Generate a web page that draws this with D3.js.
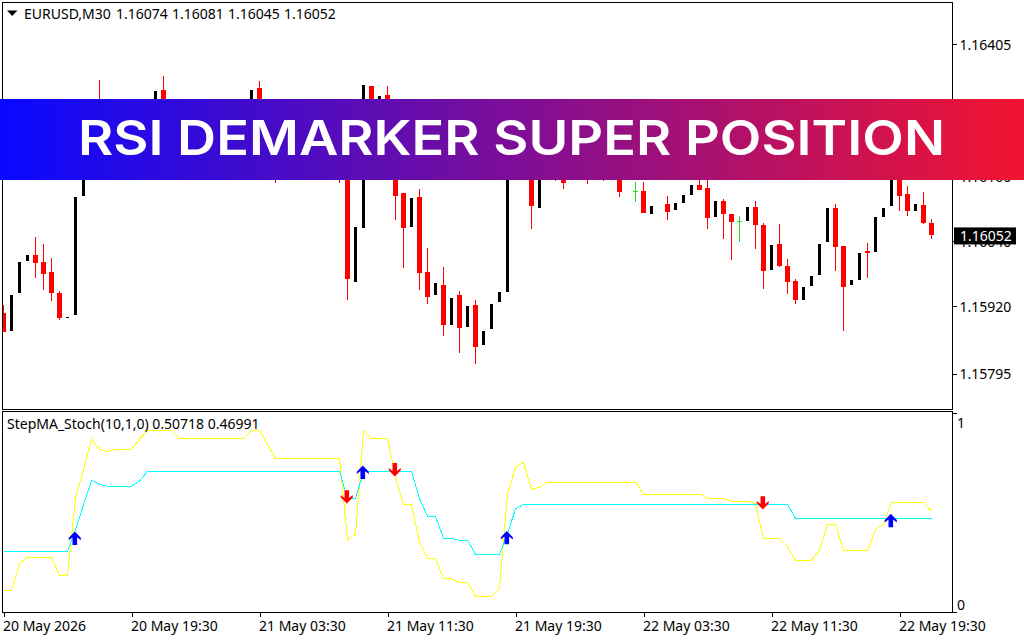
<!DOCTYPE html>
<html>
<head>
<meta charset="utf-8">
<script src="https://d3js.org/d3.v7.min.js"></script>
<style>
html,body{margin:0;padding:0;background:#fff;overflow:hidden}
svg{display:block}
text{font-family:"Noto Sans",Tahoma,sans-serif;font-size:14px;fill:#000}
</style>
</head>
<body>
<script>
const opens=[1.15908,1.15874,1.15945,1.16004,1.16015,1.16002,1.15983,1.15945,1.15899,1.15904,
1.16124,1.16228,1.16287,1.16246,1.16268,1.16240,1.16262,1.16245,1.16275,1.16300,
1.16320,1.16283,1.16262,1.16275,1.16255,1.16270,1.16282,1.16265,1.16280,1.16268,
1.16285,1.16300,1.16324,1.16274,1.16250,1.16225,1.16240,1.16220,1.16235,1.16250,
1.16230,1.16245,1.16225,1.16240,1.15965,1.16065,1.16328,1.16209,1.16311,1.16228,
1.16130,1.16067,1.16122,1.15983,1.15941,1.15959,1.15885,1.15941,1.15882,1.15922,
1.15848,1.15878,1.15928,1.15946,1.16285,1.16270,1.16280,1.16102,1.16240,1.16220,
1.16200,1.16170,1.16200,1.16190,1.16165,1.16190,1.16165,1.16195,1.16170,1.16133,
1.16133,1.16091,null,1.16109,1.16098,1.16111,1.16126,1.16144,1.16139,1.16085,
1.16115,1.16091,1.16078,1.16078,1.16104,1.16070,1.15987,1.16035,1.15995,1.15967,
1.15932,1.15958,1.15978,1.16039,1.16102,1.16032,1.15959,1.15969,1.16022,1.16020,
1.16085,1.16106,1.16240,1.16128,1.16096,1.16107,1.16074];
const closes=[1.15872,1.15941,1.16002,1.16015,1.16000,1.15980,1.15945,1.15898,1.15900,1.16122,
1.16228,1.16255,1.16246,1.16268,1.16240,1.16262,1.16245,1.16275,1.16300,1.16318,
1.16283,1.16262,1.16275,1.16255,1.16270,1.16282,1.16265,1.16280,1.16268,1.16285,
1.16300,1.16320,1.16274,1.16250,1.16225,1.16240,1.16220,1.16235,1.16250,1.16230,
1.16245,1.16225,1.16190,1.15970,1.16067,1.16329,1.16172,1.16309,1.16228,1.16124,
1.16065,1.16120,1.15982,1.15937,1.15963,1.15885,1.15935,1.15880,1.15921,1.15845,
1.15874,1.15924,1.15946,1.16283,1.16270,1.16280,1.16106,1.16240,1.16200,1.16190,
1.16148,1.16200,1.16175,1.16165,1.16190,1.16165,1.16195,1.16131,1.16195,1.16133,
1.16093,1.16106,null,1.16094,1.16111,1.16126,1.16144,1.16135,1.16083,1.16115,
1.16091,1.16076,1.16078,1.16104,1.16070,1.15985,1.16033,1.15995,1.15965,1.15932,
1.15956,1.15976,1.16035,1.16102,1.16030,1.15956,1.15969,1.16019,1.16019,1.16085,
1.16102,1.16230,1.16124,1.16096,1.16109,1.16074,1.16052];
const highs=[1.15922,1.15941,1.16002,1.16015,1.16048,1.16035,1.16009,1.15948,1.15900,1.16122,
1.16228,1.16255,1.16339,1.16268,1.16285,1.16262,1.16275,1.16275,1.16300,1.16318,
1.16346,1.16290,1.16275,1.16285,1.16270,1.16282,1.16292,1.16280,1.16288,1.16285,
1.16300,1.16320,1.16337,1.16280,1.16262,1.16240,1.16250,1.16235,1.16250,1.16260,
1.16245,1.16255,1.16240,1.16255,1.16067,1.16329,1.16328,1.16309,1.16328,1.16240,
1.16130,1.16120,1.16137,1.16028,1.15963,1.15993,1.15935,1.15948,1.15921,1.15932,
1.15874,1.15924,1.15946,1.16283,1.16295,1.16280,1.16295,1.16240,1.16250,1.16230,
1.16215,1.16200,1.16210,1.16200,1.16190,1.16200,1.16195,1.16205,1.16195,1.16150,
1.16150,1.16106,null,1.16124,1.16111,1.16126,1.16144,1.16172,1.16172,1.16115,
1.16118,1.16091,1.16087,1.16104,1.16115,1.16074,1.16033,1.16072,1.16008,1.15970,
1.15956,1.15976,1.16035,1.16102,1.16109,1.16032,1.15969,1.16019,1.16037,1.16085,
1.16102,1.16230,1.16250,1.16143,1.16109,1.16131,1.16081];
const lows=[1.15872,1.15874,1.15945,1.16004,1.15972,1.15950,1.15930,1.15895,1.15899,1.15904,
1.16124,1.16228,1.16237,1.16246,1.16225,1.16240,1.16235,1.16245,1.16275,1.16300,
1.16255,1.16250,1.16262,1.16245,1.16255,1.16270,1.16255,1.16265,1.16260,1.16268,
1.16285,1.16300,1.16255,1.16240,1.16148,1.16225,1.16210,1.16220,1.16235,1.16220,
1.16230,1.16215,1.16148,1.15932,1.15965,1.16065,1.16172,1.16209,1.16209,1.16080,
1.15991,1.16067,1.15950,1.15924,1.15941,1.15865,1.15885,1.15834,1.15882,1.15813,
1.15848,1.15878,1.15928,1.15946,1.16255,1.16270,1.16063,1.16102,1.16190,1.16152,
1.16137,1.16170,1.16165,1.16146,1.16165,1.16152,1.16165,1.16122,1.16170,1.16113,
1.16093,1.16091,null,1.16080,1.16098,1.16111,1.16126,1.16135,1.16063,1.16085,
1.16045,1.16006,1.16039,1.16078,1.16026,1.15952,1.15987,1.15993,1.15943,1.15924,
1.15932,1.15958,1.15978,1.16039,1.15985,1.15874,1.15959,1.15969,1.15972,1.16020,
1.16085,1.16106,1.16096,1.16087,1.16096,1.16072,1.16045];
const signalLine=[.109,.109,.245,.275,.275,.275,.275,.184,.184,.571,
.714,.868,.817,.807,.817,.817,.817,.868,.913,.913,
.913,.913,.873,.873,.873,.873,.873,.873,.873,.873,
.873,.913,.913,.843,.772,.772,.772,.772,.772,.772,
.772,.772,.772,.362,.390,.913,.873,.873,.873,.680,
.538,.538,.353,.270,.270,.166,.166,.149,.149,.079,
.079,.079,.119,.596,.727,.752,.616,.626,.652,.652,
.652,.652,.652,.652,.652,.652,.652,.652,.652,.652,
.591,.591,.591,.591,.591,.591,.591,.591,.571,.571,
.571,.556,.556,.556,.546,.370,.370,.370,.328,.260,
.260,.260,.310,.442,.442,.310,.310,.310,.310,.415,
.441,.551,.551,.551,.551,.551,.50718];
const stepLine=[.305,.305,.305,.305,.305,.305,.305,.305,.305,.412,
.538,.662,.642,.631,.631,.631,.631,.658,.707,.707,
.707,.707,.707,.707,.707,.707,.707,.707,.707,.707,
.707,.707,.707,.707,.707,.707,.707,.707,.707,.707,
.707,.707,.707,.571,.571,.707,.707,.707,.707,.707,
.707,.707,.571,.481,.481,.370,.370,.360,.360,.290,
.290,.290,.290,.395,.518,.541,.541,.541,.541,.541,
.541,.541,.541,.541,.541,.541,.541,.541,.541,.541,
.541,.541,.541,.541,.541,.541,.541,.541,.541,.541,
.541,.541,.541,.541,.541,.541,.541,.541,.541,.46991,
.46991,.46991,.46991,.46991,.46991,.46991,.46991,.46991,.46991,.46991,
.46991,.46991,.46991,.46991,.46991,.46991,.46991];
const upBars=[9,45,63,111];
const upLevels=[.370,.702,.373,.459];
const downBars=[43,49,95];
const downLevels=[.579,.715,.549];
const priceTicks=[1.16405,1.16283,1.16160,1.16040,1.15920,1.15795];
const timeBars=[0,16,32,48,64,80,96,112];
const timeLabels=["20 May 2026","20 May 19:30","21 May 03:30","21 May 11:30","21 May 19:30","22 May 03:30","22 May 11:30","22 May 19:30"];
const headerLabels=["EURUSD,M30","1.16074","1.16081","1.16045","1.16052"];
const indicatorTitle="StepMA_Stoch(10,1,0) 0.50718 0.46991";
const lastPrice=1.16052;
const bannerTitle="RSI DEMARKER SUPER POSITION";

const W=1024,H=640;
const svg=d3.select("body").append("svg").attr("width",W).attr("height",H);
const defs=svg.append("defs");
defs.append("clipPath").attr("id","main").append("rect").attr("x",3).attr("y",3).attr("width",949).attr("height",406);
defs.append("clipPath").attr("id","sub").append("rect").attr("x",3).attr("y",412).attr("width",949).attr("height",201);
const grad=defs.append("linearGradient").attr("id","bannerFill");
grad.append("stop").attr("offset","0%").attr("stop-color","#0808ff");
grad.append("stop").attr("offset","100%").attr("stop-color","#f21430");

const x=d3.scaleLinear().domain([0,116]).range([3.5,931.5]);
const y=d3.scaleLinear().domain([1.15730,1.16481]).range([409,3]);
const v=d3.scaleLinear().domain([0,1]).range([612,413]);
const crisp="crispEdges";

// frames
const frame=svg.append("g").attr("fill","none").attr("stroke","#000").attr("shape-rendering",crisp);
frame.append("rect").attr("x",2.5).attr("y",2.5).attr("width",950).attr("height",407);
frame.append("rect").attr("x",2.5).attr("y",411.5).attr("width",950).attr("height",201);

// candles
const bars=d3.range(opens.length).filter(i=>opens[i]!==null);
const main=svg.append("g").attr("clip-path","url(#main)").attr("shape-rendering",crisp);
const col=i=>closes[i]===opens[i]?"#1ee61e":closes[i]>opens[i]?"#000":"#ff0000";
main.selectAll("line").data(bars.filter(i=>closes[i]<=opens[i])).join("line")
  .attr("x1",x).attr("x2",x)
  .attr("y1",i=>y(highs[i])).attr("y2",i=>y(lows[i]))
  .attr("stroke",col);
main.selectAll("rect").data(bars).join("rect")
  .attr("x",i=>x(i)-(closes[i]>opens[i]?1.5:closes[i]===opens[i]?2.5:2.5))
  .attr("width",i=>closes[i]>opens[i]?3:5)
  .attr("y",i=>y(Math.max(opens[i],closes[i])))
  .attr("height",i=>Math.max(1,Math.abs(y(opens[i])-y(closes[i]))))
  .attr("fill",col);

// price axis
const axisR=svg.append("g").attr("transform","translate(952.5,0)")
  .call(d3.axisRight(y).tickValues(priceTicks).tickFormat(d3.format(".5f")).tickSize(4).tickPadding(3));
axisR.select(".domain").remove();
axisR.selectAll("line").attr("stroke","#000").attr("shape-rendering",crisp);
axisR.selectAll("text").attr("dy","0.36em").style("font-size","14px").style("font-family",'"Noto Sans"');

// last price tag
svg.append("rect").attr("x",954).attr("y",y(lastPrice)-7.5).attr("width",62).attr("height",17).attr("fill","#000");
svg.append("text").attr("x",960).attr("y",y(lastPrice)+1).attr("dy","0.36em").style("fill","#fff").text(d3.format(".5f")(lastPrice));

// header
svg.append("path").attr("d",d3.line()([[7,10.5],[17.5,10.5],[12.2,16]])+"Z").attr("fill","#000");
const headerX=[24,116,172,228,284];
svg.selectAll(".hdr").data(headerLabels).join("text").attr("class","hdr")
  .attr("x",(d,i)=>headerX[i]).attr("y",14).attr("dy","0.36em").text(d=>d);

// indicator
const sub=svg.append("g").attr("clip-path","url(#sub)");
const ln=d3.line().x((d,i)=>x(i)).y(d=>v(d));
sub.append("path").attr("d",ln(signalLine)).attr("fill","none").attr("stroke","#ffff00").attr("shape-rendering",crisp);
sub.append("path").attr("d",ln(stepLine)).attr("fill","none").attr("stroke","#00ffff").attr("shape-rendering",crisp);
const arrow=d3.line()([[0,-6.8],[6,-0.6],[6,1.8],[2.3,-1.2],[2.3,6.6],[-2.3,6.6],[-2.3,-1.2],[-6,1.8],[-6,-0.6]])+"Z";
sub.selectAll(".up").data(upBars).join("path").attr("class","up").attr("d",arrow).attr("fill","#0000ff")
  .attr("transform",(d,i)=>`translate(${x(d)-0.7},${v(upLevels[i])})`);
sub.selectAll(".dn").data(downBars).join("path").attr("class","dn").attr("d",arrow).attr("fill","#ff0000")
  .attr("transform",(d,i)=>`translate(${x(d)-0.7},${v(downLevels[i])}) scale(1,-1)`);
svg.append("text").attr("x",7).attr("y",424).attr("dy","0.36em").text(indicatorTitle);

// indicator scale
const axisV=svg.append("g").attr("transform","translate(952.5,0)")
  .call(d3.axisRight(v).tickValues([0,1]).tickFormat(d3.format("d")).tickSize(4));
axisV.select(".domain").remove();
axisV.selectAll("line").attr("stroke","#000").attr("shape-rendering",crisp);
axisV.selectAll("text").attr("x",4.5).attr("dy","0.36em")
  .attr("y",d=>d===1?9:-8).style("font-size","14px").style("font-family",'"Noto Sans"');

// time axis
const axisB=svg.append("g").attr("transform","translate(0,612.5)")
  .call(d3.axisBottom(x).tickValues(timeBars).tickFormat((d,i)=>timeLabels[i]).tickSize(4).tickPadding(3));
axisB.select(".domain").remove();
axisB.selectAll("line").attr("stroke","#000").attr("shape-rendering",crisp);
axisB.selectAll("text").attr("text-anchor","start").attr("x",-1).attr("y",13.5).attr("dy","0.36em")
  .style("font-size","14px").style("font-family",'"Noto Sans"');

// banner
svg.append("rect").attr("x",0).attr("y",99).attr("width",W).attr("height",81).attr("fill","url(#bannerFill)");
svg.append("text").attr("x",78).attr("y",155)
  .attr("textLength",867).attr("lengthAdjust","spacingAndGlyphs")
  .style("font-family","Inter").style("font-size","48px").style("font-weight",600).style("fill","#fff")
  .text(bannerTitle);
</script>
</body>
</html>
